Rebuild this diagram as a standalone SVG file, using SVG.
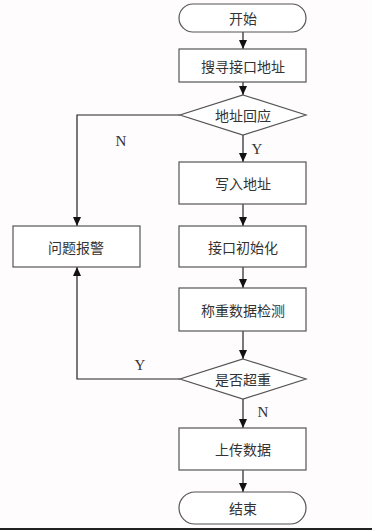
<svg xmlns="http://www.w3.org/2000/svg" width="372" height="530" viewBox="0 0 372 530">
<defs>
<marker id="arr" markerWidth="9" markerHeight="8" refX="9" refY="4" orient="auto" markerUnits="userSpaceOnUse">
<path d="M0,0 L9,4 L0,8 Z" fill="#111"/>
</marker>
<style>
.s{fill:#fff;stroke:#555;stroke-width:1.2}
.t{font-family:"Noto Sans CJK SC","Noto Sans",sans-serif;font-size:14px;fill:#333;text-anchor:middle;dominant-baseline:central}
.l{font-family:"Liberation Serif",serif;font-size:15px;fill:#333;text-anchor:middle;dominant-baseline:central}
.c{fill:none;stroke:#222;stroke-width:1.2}
</style>
</defs>
<rect width="372" height="530" fill="#fefcfc"/>
<rect x="0" y="528" width="372" height="2" fill="#222"/>
<g id="connectors">
<line class="c" x1="243" y1="32" x2="243" y2="49" marker-end="url(#arr)"/>
<line class="c" x1="243" y1="82" x2="243" y2="95" marker-end="url(#arr)"/>
<line class="c" x1="243" y1="135" x2="243" y2="162" marker-end="url(#arr)"/>
<polyline class="c" points="180,115 77,115 77,226" marker-end="url(#arr)"/>
<line class="c" x1="243" y1="204" x2="243" y2="226" marker-end="url(#arr)"/>
<line class="c" x1="243" y1="267" x2="243" y2="288" marker-end="url(#arr)"/>
<line class="c" x1="243" y1="331" x2="243" y2="359" marker-end="url(#arr)"/>
<polyline class="c" points="180,379 77,379 77,267" marker-end="url(#arr)"/>
<line class="c" x1="243" y1="399" x2="243" y2="428" marker-end="url(#arr)"/>
<line class="c" x1="243" y1="470" x2="243" y2="492" marker-end="url(#arr)"/>
<text class="l" x="121" y="141">N</text>
<text class="l" x="257" y="149">Y</text>
<text class="l" x="140" y="365">Y</text>
<text class="l" x="263" y="412">N</text>
</g>
<g id="start"><rect class="s" x="179" y="4" width="127" height="28" rx="14"/><text class="t" x="243" y="18">开始</text></g>
<g id="search"><rect class="s" x="179" y="49" width="127" height="33"/><text class="t" x="243" y="65.5">搜寻接口地址</text></g>
<g id="resp"><polygon class="s" points="243,95 306,115 243,135 180,115"/><text class="t" x="243" y="115">地址回应</text></g>
<g id="write"><rect class="s" x="179" y="162" width="127" height="42"/><text class="t" x="243" y="183">写入地址</text></g>
<g id="init"><rect class="s" x="179" y="226" width="127" height="41"/><text class="t" x="243" y="246.5">接口初始化</text></g>
<g id="alarm"><rect class="s" x="13" y="226" width="127" height="41"/><text class="t" x="76" y="246.5">问题报警</text></g>
<g id="detect"><rect class="s" x="179" y="288" width="127" height="43"/><text class="t" x="243" y="309.5">称重数据检测</text></g>
<g id="over"><polygon class="s" points="243,359 306,379 243,399 180,379"/><text class="t" x="243" y="379">是否超重</text></g>
<g id="upload"><rect class="s" x="179" y="428" width="127" height="42"/><text class="t" x="243" y="449">上传数据</text></g>
<g id="end"><rect class="s" x="179" y="492" width="127" height="32" rx="16"/><text class="t" x="243" y="508">结束</text></g>
</svg>
